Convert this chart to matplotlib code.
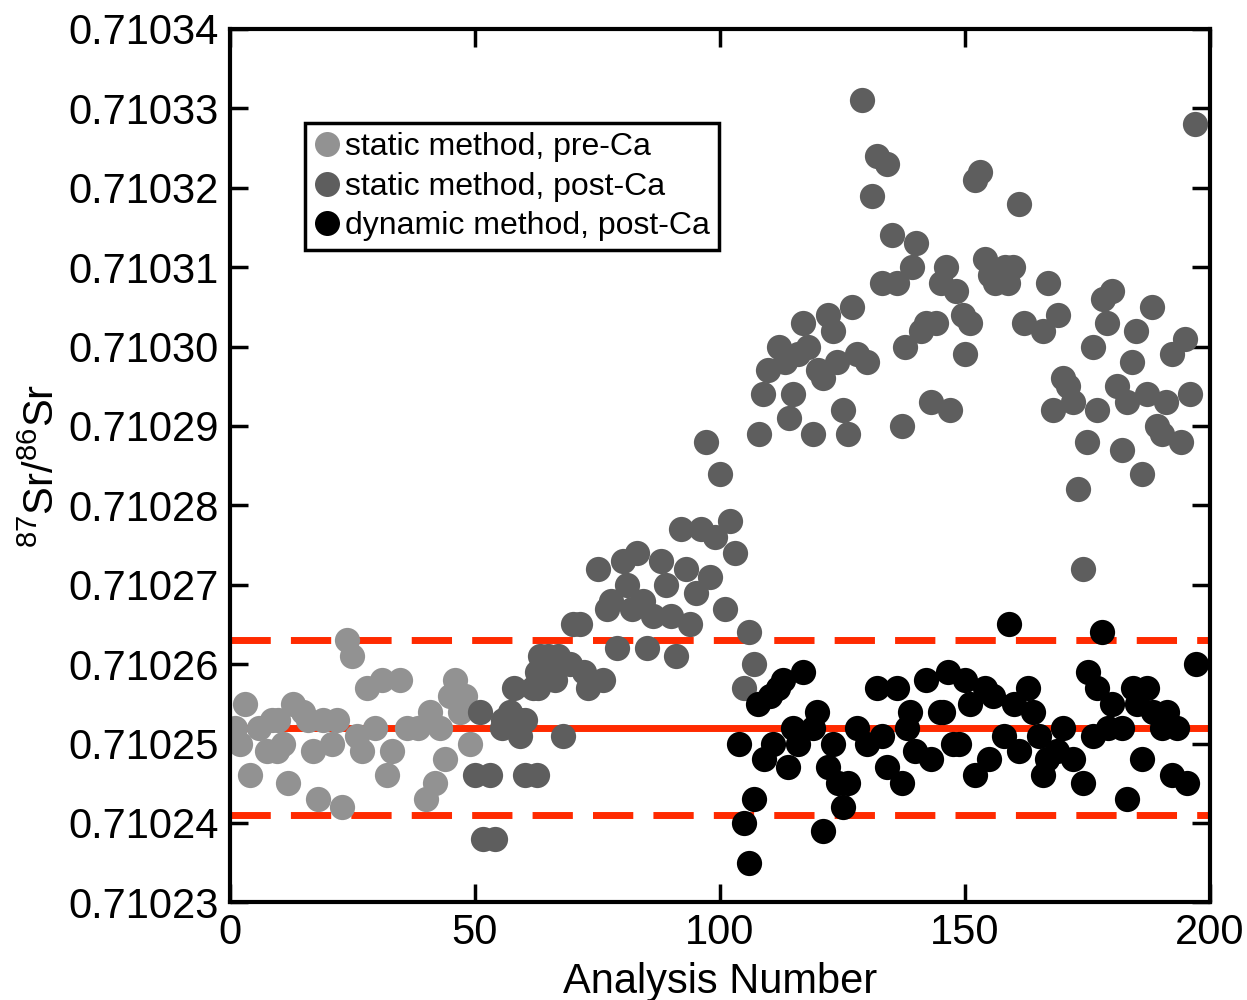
import numpy as np
import matplotlib
matplotlib.use('Agg')
import matplotlib.pyplot as plt
from matplotlib.lines import Line2D

plt.rcParams['font.family'] = ['Liberation Sans', 'DejaVu Sans']
plt.rcParams['mathtext.fontset'] = 'custom'
plt.rcParams['mathtext.rm'] = 'Liberation Sans'
plt.rcParams['mathtext.it'] = 'Liberation Sans'

# Static method, before Ca cleanup
pre_x = [1, 2, 3, 4, 6, 7.5, 8.6, 9.8, 10.8, 9.6, 11.8, 12.9, 14.9, 15.9, 16.9,
         18, 19, 20.8, 21.8, 22.9, 23.8, 24.9, 25.9, 26.9, 28, 29.6, 31, 32, 33.1,
         34.7, 36.1, 38.4, 40, 40.8, 41.8, 42.9, 43.9, 44.9, 45.9, 46.9, 48, 49]
pre_y = [0.710252, 0.710250, 0.710255, 0.710246, 0.710252, 0.710249, 0.710253,
         0.710253, 0.710250, 0.710249, 0.710245, 0.710255, 0.710254, 0.710253,
         0.710249, 0.710243, 0.710253, 0.710250, 0.710253, 0.710242, 0.710263,
         0.710261, 0.710251, 0.710249, 0.710257, 0.710252, 0.710258, 0.710246,
         0.710249, 0.710258, 0.710252, 0.710252, 0.710243, 0.710254, 0.710245,
         0.710252, 0.710248, 0.710256, 0.710258, 0.710254, 0.710256, 0.710250]

# Static method, after Ca cleanup
post_x = [50, 51, 51.6, 53.1, 54.1, 55.5, 55.7, 57.1, 58, 59.2, 59.2, 60.2, 60.2,
          61.8, 62.7, 62.7, 62.9, 63.3, 63.9, 64.9, 66.3, 66.9, 68, 69.4, 70,
          71.4, 72.2, 73.1, 76.1, 75.1, 76.9, 77.8, 79, 80.2, 81, 82, 83.1, 84.3,
          85.1, 86.3, 88, 89, 90, 91, 92, 93.1, 93.9, 95.1, 96.1, 97.1, 98, 99,
          100, 101, 102, 103.1, 104.9, 105.9, 106.9,
          108, 108.8, 109.8, 112, 113.3, 114.1, 114.9, 115.9, 116.9, 118, 119,
          120, 121, 122, 123.1, 123.9, 125.1, 126.1, 126.9, 128, 129, 130, 131,
          132, 133.1, 134.1, 135.1, 136.1, 137.1, 137.8, 139.2, 140, 141, 142,
          143.1, 144.1, 145.1, 146.1, 146.9, 148.2, 149.6, 150, 151, 152, 153.1,
          154.1, 155.1, 156.1, 158.2, 158.8, 159.8, 161, 162, 165.9, 166.9, 168,
          169, 170, 171, 172, 173.1, 174.1, 174.9, 176.1, 176.9, 178.2, 179, 180,
          181, 182, 183.1, 184.1, 184.9, 186.1, 187.1, 188.2, 189.2, 190.2, 191,
          192.2, 194.1, 194.9, 195.9, 196.9]
post_y = [0.710246, 0.710254, 0.710238, 0.710246, 0.710238, 0.710252, 0.710253,
          0.710254, 0.710257, 0.710253, 0.710251, 0.710253, 0.710246, 0.710257,
          0.710259, 0.710246, 0.710257, 0.710261, 0.710259, 0.710261, 0.710258,
          0.710261, 0.710251, 0.710260, 0.710265, 0.710265, 0.710259, 0.710257,
          0.710258, 0.710272, 0.710267, 0.710268, 0.710262, 0.710273, 0.710270,
          0.710267, 0.710274, 0.710268, 0.710262, 0.710266, 0.710273, 0.710270,
          0.710266, 0.710261, 0.710277, 0.710272, 0.710265, 0.710269, 0.710277,
          0.710288, 0.710271, 0.710276, 0.710284, 0.710267, 0.710278, 0.710274,
          0.710257, 0.710264, 0.710260,
          0.710289, 0.710294, 0.710297, 0.710300, 0.710298, 0.710291, 0.710294,
          0.710299, 0.710303, 0.710300, 0.710289, 0.710297, 0.710296, 0.710304,
          0.710302, 0.710298, 0.710292, 0.710289, 0.710305, 0.710299, 0.710331,
          0.710298, 0.710319, 0.710324, 0.710308, 0.710323, 0.710314, 0.710308,
          0.710290, 0.710300, 0.710310, 0.710313, 0.710302, 0.710303, 0.710293,
          0.710303, 0.710308, 0.710310, 0.710292, 0.710307, 0.710304, 0.710299,
          0.710303, 0.710321, 0.710322, 0.710311, 0.710309, 0.710308, 0.710310,
          0.710308, 0.710310, 0.710318, 0.710303, 0.710302, 0.710308, 0.710292,
          0.710304, 0.710296, 0.710295, 0.710293, 0.710282, 0.710272, 0.710288,
          0.710300, 0.710292, 0.710306, 0.710303, 0.710307, 0.710295, 0.710287,
          0.710293, 0.710298, 0.710302, 0.710284, 0.710294, 0.710305, 0.710290,
          0.710289, 0.710293, 0.710299, 0.710288, 0.710301, 0.710294, 0.710328]

# Dynamic method, after Ca cleanup
dyn_x = [103.9, 104.9, 105.9, 106.9, 107.8, 109, 110.2, 110.8, 111.8, 112.9,
         113.9, 114.9, 115.9, 116.9, 119, 119.8, 121, 122, 123.1, 124.1, 125.1,
         126.1, 128, 130, 132, 133.1, 134.1, 136.1, 137.1, 138.2, 138.8, 139.8,
         142, 143.1, 144.9, 145.5, 146.5, 147.6, 148.8, 150, 151, 152, 154.1,
         154.9, 155.7, 158, 159, 160, 161, 162.9, 163.9, 165.1, 165.9, 166.7,
         168.8, 170, 172, 174.1, 175.1, 176.1, 176.9, 178, 179.2, 180, 182,
         183.1, 184.3, 185.1, 186.1, 187.1, 188.4, 190.2, 191.2, 192.2, 193.3,
         195.3, 197.1]
dyn_y = [0.710250, 0.710240, 0.710235, 0.710243, 0.710255, 0.710248, 0.710256,
         0.710250, 0.710257, 0.710258, 0.710247, 0.710252, 0.710250, 0.710259,
         0.710252, 0.710254, 0.710239, 0.710247, 0.710250, 0.710245, 0.710242,
         0.710245, 0.710252, 0.710250, 0.710257, 0.710251, 0.710247, 0.710257,
         0.710245, 0.710252, 0.710254, 0.710249, 0.710258, 0.710248, 0.710254,
         0.710254, 0.710259, 0.710250, 0.710250, 0.710258, 0.710255, 0.710246,
         0.710257, 0.710248, 0.710256, 0.710251, 0.710265, 0.710255, 0.710249,
         0.710257, 0.710254, 0.710251, 0.710246, 0.710248, 0.710249, 0.710252,
         0.710248, 0.710245, 0.710259, 0.710251, 0.710257, 0.710264, 0.710252,
         0.710255, 0.710252, 0.710243, 0.710257, 0.710255, 0.710248, 0.710257,
         0.710254, 0.710252, 0.710254, 0.710246, 0.710252, 0.710245, 0.710260]

# Mean and 2SD band
mean_val = 0.710252
band_lo = 0.710241
band_hi = 0.710263

fig = plt.figure(figsize=(12.47, 10), dpi=100)
ax = fig.add_axes([0.1844, 0.0977, 0.7859, 0.8734])

red = '#ff2a00'
ax.axhline(mean_val, color=red, lw=5, zorder=1)
for v in (band_lo, band_hi):
    ax.axhline(v, color=red, lw=5, dashes=(5.8, 2.9), zorder=1)

ms = 330
ax.scatter(pre_x, pre_y, s=ms, color='#929292', linewidths=0, zorder=2)
ax.scatter(post_x, post_y, s=ms, color='#5e5e5e', linewidths=0, zorder=3)
ax.scatter(dyn_x, dyn_y, s=ms, color='black', linewidths=0, zorder=4)

ax.set_xlim(0, 200)
ax.set_ylim(0.71023, 0.71034)
ax.set_xticks([0, 50, 100, 150, 200])
yt = np.arange(0.71023, 0.710345, 0.00001)
ax.set_yticks(yt)
ax.set_yticklabels([f'{v:.5f}' for v in yt])
ax.tick_params(direction='in', length=13, width=2.5, labelsize=30,
               top=True, right=True, pad=8)
for sp in ax.spines.values():
    sp.set_linewidth(3)

ax.set_xlabel('Analysis Number', fontsize=30, labelpad=6)
ax.set_ylabel(r'$^{87}$Sr/$^{86}$Sr', fontsize=30, labelpad=4)

handles = [
    Line2D([], [], ls='', marker='o', ms=18, mfc='#929292', mec='none'),
    Line2D([], [], ls='', marker='o', ms=18, mfc='#5e5e5e', mec='none'),
    Line2D([], [], ls='', marker='o', ms=18, mfc='black', mec='none'),
]
labels = ['static method, pre-Ca', 'static method, post-Ca',
          'dynamic method, post-Ca']
leg = ax.legend(handles, labels, loc='upper left', bbox_to_anchor=(0.0765, 0.892),
                borderaxespad=0, fontsize=23, fancybox=False, framealpha=1,
                edgecolor='black', handlelength=0.81, handletextpad=0.16,
                labelspacing=0.3, borderpad=0.28)
leg.get_frame().set_linewidth(2.5)

fig.savefig('out.png', dpi=100)
